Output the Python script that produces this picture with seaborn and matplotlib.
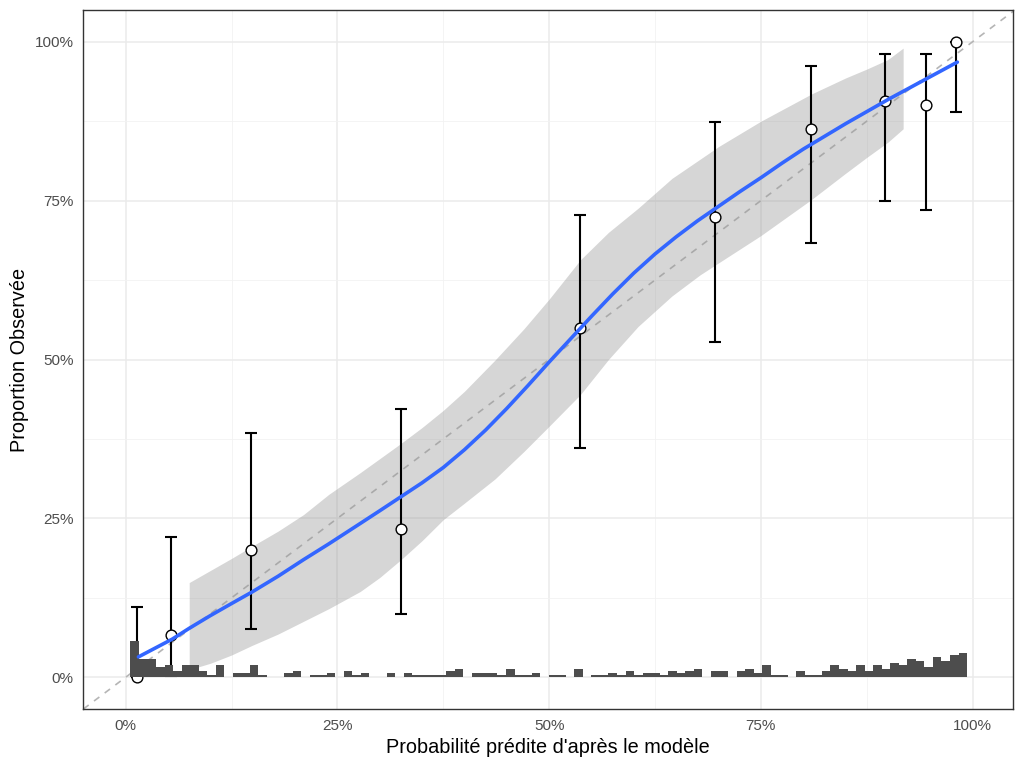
import numpy as np
import pandas as pd
import matplotlib
matplotlib.use("Agg")
import matplotlib.pyplot as plt
import seaborn as sns
from matplotlib.ticker import PercentFormatter, MultipleLocator

# Points de calibration (déciles) et intervalles de confiance
pred_moy = [0.013, 0.053, 0.148, 0.325, 0.537, 0.696, 0.809, 0.896, 0.945, 0.980]
obs_prop = [0.000, 0.067, 0.200, 0.233, 0.549, 0.725, 0.862, 0.907, 0.901, 1.000]
ic_bas = [0.000, 0.002, 0.076, 0.099, 0.361, 0.528, 0.684, 0.750, 0.735, 0.889]
ic_haut = [0.111, 0.220, 0.385, 0.422, 0.728, 0.873, 0.962, 0.981, 0.980, 1.000]

# Courbe lissée (loess)
lisse_x = [0.015, 0.055, 0.075, 0.100, 0.125, 0.149, 0.180, 0.210, 0.240, 0.277,
           0.300, 0.325, 0.350, 0.375, 0.400, 0.425, 0.450, 0.475, 0.500, 0.525,
           0.550, 0.575, 0.600, 0.625, 0.650, 0.675, 0.700, 0.725, 0.750, 0.775,
           0.800, 0.825, 0.850, 0.875, 0.900, 0.925, 0.950, 0.982]
lisse_y = [0.032, 0.060, 0.077, 0.097, 0.116, 0.134, 0.159, 0.185, 0.210, 0.242,
           0.262, 0.284, 0.306, 0.330, 0.358, 0.389, 0.423, 0.459, 0.496, 0.532,
           0.568, 0.603, 0.636, 0.666, 0.693, 0.718, 0.741, 0.764, 0.786, 0.809,
           0.831, 0.851, 0.871, 0.890, 0.909, 0.927, 0.945, 0.968]

# Bande de confiance du lissage
bande_x = [0.075, 0.100, 0.125, 0.149, 0.180, 0.210, 0.240, 0.277, 0.300, 0.325,
           0.350, 0.375, 0.400, 0.436, 0.470, 0.500, 0.537, 0.570, 0.605, 0.645,
           0.678, 0.700, 0.750, 0.810, 0.850, 0.875, 0.900, 0.918]
bande_bas = [0.012, 0.022, 0.035, 0.050, 0.068, 0.088, 0.108, 0.135, 0.157, 0.185,
             0.215, 0.248, 0.274, 0.312, 0.355, 0.395, 0.445, 0.500, 0.552, 0.600,
             0.633, 0.652, 0.695, 0.752, 0.793, 0.818, 0.842, 0.863]
bande_haut = [0.149, 0.168, 0.187, 0.206, 0.230, 0.256, 0.288, 0.322, 0.344, 0.368,
              0.393, 0.420, 0.450, 0.499, 0.548, 0.595, 0.657, 0.700, 0.738, 0.785,
              0.815, 0.835, 0.875, 0.918, 0.943, 0.957, 0.972, 0.990]

# Histogramme des probabilités prédites (effectifs par classe)
hist_bornes = (0.0055, 0.9935)
hist_effectifs = [18, 9, 9, 5, 6, 3, 6, 6, 3, 1,
                  6, 0, 2, 2, 6, 1, 0, 0, 2, 3,
                  0, 1, 1, 2, 0, 3, 1, 2, 0, 0,
                  2, 0, 2, 1, 1, 1, 1, 3, 4, 0,
                  2, 2, 2, 1, 4, 1, 1, 2, 0, 1,
                  1, 0, 4, 0, 1, 1, 2, 1, 3, 1,
                  2, 2, 1, 3, 2, 3, 4, 0, 3, 3,
                  0, 3, 4, 2, 6, 1, 1, 0, 3, 1,
                  1, 3, 6, 4, 3, 6, 3, 6, 4, 7,
                  6, 9, 8, 5, 10, 8, 11, 12]
echelle_hist = 0.0032  # hauteur d'une observation sur l'axe des proportions

sns.set_style("white")
plt.rcParams["font.family"] = ["Liberation Sans", "DejaVu Sans"]

fig = plt.figure(figsize=(10.24, 7.68), dpi=100)
ax = fig.add_axes([0.0814, 0.0768, 0.9081, 0.9102])

# grille façon theme_bw
ax.xaxis.set_major_locator(MultipleLocator(0.25))
ax.yaxis.set_major_locator(MultipleLocator(0.25))
ax.xaxis.set_minor_locator(MultipleLocator(0.125))
ax.yaxis.set_minor_locator(MultipleLocator(0.125))
ax.grid(which="major", color="#ebebeb", linewidth=1.1, zorder=0)
ax.grid(which="minor", color="#f2f2f2", linewidth=0.6, zorder=0)
ax.set_axisbelow(True)

# diagonale de calibration parfaite
ax.axline((0, 0), (1, 1), color="#b5b5b5", linestyle=(0, (4, 4)), linewidth=1.2, zorder=1)

# bande de confiance
ax.fill_between(bande_x, bande_bas, bande_haut, color="#999999", alpha=0.4,
                linewidth=0, zorder=2)

# barres d'erreur + points observés
obs = np.array(obs_prop)
ax.errorbar(pred_moy, obs_prop,
            yerr=[obs - np.array(ic_bas), np.array(ic_haut) - obs],
            fmt="none", ecolor="black", elinewidth=1.5, capsize=4, capthick=1.5, zorder=3)
sns.scatterplot(x=pred_moy, y=obs_prop, s=60, color="white", edgecolor="black",
                linewidth=1.0, ax=ax, zorder=4)

# histogramme en bas du graphique (par-dessus les points, comme dans l'original)
n_classes = len(hist_effectifs)
largeur = (hist_bornes[1] - hist_bornes[0]) / n_classes
df_hist = pd.DataFrame({
    "centre": hist_bornes[0] + largeur * (np.arange(n_classes) + 0.5),
    "poids": np.array(hist_effectifs) * echelle_hist,
})
sns.histplot(data=df_hist, x="centre", weights="poids", bins=n_classes,
             binrange=hist_bornes, color="#4d4d4d", alpha=1, linewidth=0,
             ax=ax, zorder=5)

# courbe lissée
sns.lineplot(x=lisse_x, y=lisse_y, sort=False, color="#3366FF", linewidth=2.6,
             ax=ax, zorder=6)

ax.set_xlim(-0.05, 1.048)
ax.set_ylim(-0.05, 1.05)
ax.xaxis.set_major_formatter(PercentFormatter(xmax=1, decimals=0))
ax.yaxis.set_major_formatter(PercentFormatter(xmax=1, decimals=0))

for s in ax.spines.values():
    s.set_color("#333333")
    s.set_linewidth(1.0)
ax.tick_params(axis="both", which="major", length=4, width=1, color="#333333",
               labelcolor="#4d4d4d", labelsize=11, pad=3)
ax.tick_params(axis="both", which="minor", length=0)

ax.set_xlabel("Probabilité prédite d'après le modèle", fontsize=14.3, color="black", labelpad=4)
ax.set_ylabel("Proportion Observée", fontsize=14.3, color="black", labelpad=4)

fig.savefig("out.png", dpi=100)
